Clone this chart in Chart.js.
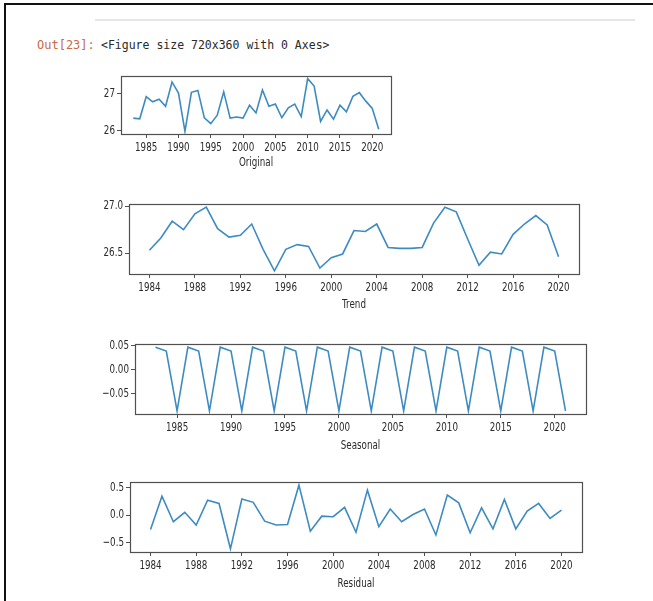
<!DOCTYPE html>
<html>
<head>
<meta charset="utf-8">
<script src="https://cdn.jsdelivr.net/npm/chart.js@4.4.0/dist/chart.umd.min.js"></script>
<style>
  html, body { margin: 0; overflow: hidden; }
  body { background: #fff; width: 653px; height: 601px; position: relative; }
  .edge-top { position: absolute; left: 4px; top: 3px; width: 649px; height: 2px; background: #111; }
  .edge-left { position: absolute; left: 4px; top: 3px; width: 2px; height: 598px; background: #111; }
  .sep { position: absolute; left: 95px; top: 19px; width: 540px; height: 2px; background: #e6e6e6; }
  .prompt { position: absolute; left: 37px; top: 38px; font: 12px "DejaVu Sans Mono", monospace; color: #c86a48; }
  .out { position: absolute; left: 101px; top: 38px; font: 11.5px "DejaVu Sans Mono", monospace; color: #2a2a2a; }
  canvas { position: absolute; }
</style>
</head>
<body>
<div class="edge-top"></div>
<div class="edge-left"></div>
<div class="sep"></div>
<div class="prompt">Out[23]:</div>
<div class="out">&lt;Figure size 720x360 with 0 Axes&gt;</div>
<canvas id="original"></canvas>
<canvas id="trend"></canvas>
<canvas id="seasonal"></canvas>
<canvas id="residual"></canvas>
<script>
// yearly values, 1983-2021 (trend / residual lose one year at each end)
const years = [1983, 1984, 1985, 1986, 1987, 1988, 1989, 1990, 1991, 1992,
  1993, 1994, 1995, 1996, 1997, 1998, 1999, 2000, 2001, 2002,
  2003, 2004, 2005, 2006, 2007, 2008, 2009, 2010, 2011, 2012,
  2013, 2014, 2015, 2016, 2017, 2018, 2019, 2020, 2021];
const innerYears = [1984, 1985, 1986, 1987, 1988, 1989, 1990, 1991, 1992,
  1993, 1994, 1995, 1996, 1997, 1998, 1999, 2000, 2001, 2002,
  2003, 2004, 2005, 2006, 2007, 2008, 2009, 2010, 2011, 2012,
  2013, 2014, 2015, 2016, 2017, 2018, 2019, 2020];

const original = [26.33, 26.31, 26.91, 26.77, 26.84, 26.65, 27.31, 27.01, 25.97, 27.03,
  27.08, 26.34, 26.18, 26.41, 27.04, 26.33, 26.36, 26.33, 26.68, 26.47,
  27.09, 26.65, 26.71, 26.34, 26.61, 26.71, 26.37, 27.40, 27.20, 26.24,
  26.55, 26.30, 26.68, 26.50, 26.92, 27.02, 26.79, 26.59, 26.03];
const trend = [26.53, 26.66, 26.84, 26.75, 26.92, 26.99, 26.76, 26.67, 26.69,
  26.81, 26.54, 26.31, 26.54, 26.59, 26.57, 26.34, 26.45, 26.49, 26.74,
  26.73, 26.81, 26.56, 26.55, 26.55, 26.56, 26.82, 26.99, 26.94, 26.65,
  26.37, 26.51, 26.49, 26.70, 26.81, 26.90, 26.80, 26.46];
const seasonal = [0.047, 0.039, -0.086, 0.047, 0.039, -0.086, 0.047, 0.039, -0.086, 0.047,
  0.039, -0.086, 0.047, 0.039, -0.086, 0.047, 0.039, -0.086, 0.047, 0.039,
  -0.086, 0.047, 0.039, -0.086, 0.047, 0.039, -0.086, 0.047, 0.039, -0.086,
  0.047, 0.039, -0.086, 0.047, 0.039, -0.086, 0.047, 0.039, -0.086];
const residual = [-0.26, 0.34, -0.12, 0.05, -0.18, 0.27, 0.21, -0.61, 0.29,
  0.23, -0.11, -0.18, -0.17, 0.54, -0.29, -0.02, -0.03, 0.14, -0.31,
  0.45, -0.21, 0.11, -0.12, 0.01, 0.11, -0.36, 0.36, 0.22, -0.32,
  0.13, -0.25, 0.28, -0.25, 0.07, 0.21, -0.06, 0.09];

// tick values and their labels
const xTicks5 = [1985, 1990, 1995, 2000, 2005, 2010, 2015, 2020];
const xTicks4 = [1984, 1988, 1992, 1996, 2000, 2004, 2008, 2012, 2016, 2020];
const origTicks = [26, 27];
const origLabels = ['26', '27'];
const trendTicks = [26.5, 27.0];
const trendLabels = ['26.5', '27.0'];
const seasTicks = [-0.05, 0.00, 0.05];
const seasLabels = ['\u22120.05', '0.00', '0.05'];
const residTicks = [-0.5, 0.0, 0.5];
const residLabels = ['\u22120.5', '0.0', '0.5'];

const LINE = '#3e8bc2';
const AXIS = '#505050';
const TEXT = '#2b2b2b';
const FONT_CSS = '12.5px "DejaVu Sans", sans-serif';
const SQUEEZE = 0.7;   // the figure's text is drawn narrow
const PAD_TOP = 8;

// frame on all four sides, like matplotlib spines
const boxPlugin = {
  id: 'box',
  afterDatasetsDraw(chart) {
    const a = chart.chartArea, c = chart.ctx;
    c.save();
    c.strokeStyle = AXIS;
    c.lineWidth = 1.2;
    c.strokeRect(Math.round(a.left) + 0.5, Math.round(a.top) + 0.5,
      Math.round(a.right - a.left), Math.round(a.bottom - a.top));
    c.restore();
  }
};

function squeezedText(c, text, x, y) {
  c.save();
  c.translate(x, y);
  c.scale(SQUEEZE, 1);
  c.fillText(text, 0, 0);
  c.restore();
}

// tick labels + axis title, placed from the chart's own scales
const labelPlugin = {
  id: 'narrowLabels',
  afterDraw(chart, args, opts) {
    const c = chart.ctx, a = chart.chartArea;
    const sx = chart.scales.x, sy = chart.scales.y;
    c.save();
    c.fillStyle = TEXT;
    c.font = FONT_CSS;
    c.textAlign = 'center';
    c.textBaseline = 'top';
    sx.ticks.forEach(t => squeezedText(c, String(t.value), sx.getPixelForValue(t.value), a.bottom + 7));
    c.textBaseline = 'middle';
    squeezedText(c, opts.title, (a.left + a.right) / 2, a.bottom + opts.titleOffset);
    c.textAlign = 'right';
    sy.ticks.forEach(t => squeezedText(c, t.label, a.left - 6, sy.getPixelForValue(t.value)));
    c.restore();
  }
};

function limits(vals) {
  const lo = Math.min(...vals), hi = Math.max(...vals), m = (hi - lo) * 0.05;
  return [lo - m, hi + m];
}

function drawPanel(id, box, xs, ys, xTicks, yTicks, yLabels, title) {
  const canvas = document.getElementById(id);
  const left = 40;
  const W = box.r + 4 - left, H = box.b - box.t + PAD_TOP + box.xh;
  canvas.width = W; canvas.height = H;
  canvas.style.left = left + 'px';
  canvas.style.top = (box.t - PAD_TOP) + 'px';
  canvas.style.width = W + 'px';
  canvas.style.height = H + 'px';

  const [xmin, xmax] = limits(xs);
  const [ymin, ymax] = limits(ys);

  new Chart(canvas, {
    type: 'line',
    data: {
      datasets: [{
        data: xs.map((x, i) => ({ x: x, y: ys[i] })),
        borderColor: LINE,
        borderWidth: 1.6,
        pointRadius: 0,
        tension: 0,
        fill: false
      }]
    },
    plugins: [boxPlugin, labelPlugin],
    options: {
      responsive: false,
      animation: false,
      devicePixelRatio: 1,
      layout: { padding: { top: PAD_TOP, right: 4, left: 0, bottom: 0 } },
      plugins: {
        legend: { display: false },
        tooltip: { enabled: false },
        narrowLabels: { title: title, titleOffset: box.to }
      },
      scales: {
        x: {
          type: 'linear', min: xmin, max: xmax,
          afterBuildTicks: s => { s.ticks = xTicks.map(v => ({ value: v })); },
          afterFit: s => { s.height = box.xh; s.paddingLeft = 0; s.paddingRight = 0; },
          ticks: { display: false, autoSkip: false },
          grid: { drawOnChartArea: false, tickLength: 4, color: AXIS, tickColor: AXIS },
          border: { display: false }
        },
        y: {
          min: ymin, max: ymax,
          afterBuildTicks: s => { s.ticks = yTicks.map(v => ({ value: v })); },
          afterFit: s => { s.width = box.l - left; s.paddingTop = 0; s.paddingBottom = 0; },
          ticks: { display: false, autoSkip: false,
            callback: v => yLabels[yTicks.indexOf(v)] },
          grid: { drawOnChartArea: false, tickLength: 4, color: AXIS, tickColor: AXIS },
          border: { display: false }
        }
      }
    }
  });
}

drawPanel('original', { l: 121, t: 76, r: 391, b: 134, xh: 40, to: 29 }, years, original, xTicks5, origTicks, origLabels, 'Original');
drawPanel('trend', { l: 129, t: 204, r: 579, b: 274, xh: 42, to: 31 }, innerYears, trend, xTicks4, trendTicks, trendLabels, 'Trend');
drawPanel('seasonal', { l: 135, t: 344, r: 586, b: 414, xh: 42, to: 32 }, years, seasonal, xTicks5, seasTicks, seasLabels, 'Seasonal');
drawPanel('residual', { l: 130, t: 482, r: 582, b: 552, xh: 42, to: 32 }, innerYears, residual, xTicks4, residTicks, residLabels, 'Residual');
</script>
</body>
</html>
